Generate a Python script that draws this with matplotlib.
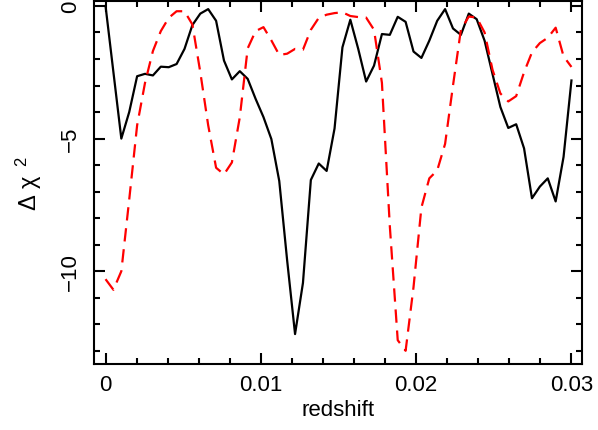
import matplotlib
matplotlib.use('Agg')
import matplotlib.pyplot as plt
from matplotlib.ticker import MultipleLocator

# redshift grid (60 samples from 0 to 0.03)
redshift = [0.000000, 0.000508, 0.001017, 0.001525, 0.002034, 0.002542, 0.003051, 0.003559,
            0.004068, 0.004576, 0.005085, 0.005593, 0.006102, 0.006610, 0.007119, 0.007627,
            0.008136, 0.008644, 0.009153, 0.009661, 0.010169, 0.010678, 0.011186, 0.011695,
            0.012203, 0.012712, 0.013220, 0.013729, 0.014237, 0.014746, 0.015254, 0.015763,
            0.016271, 0.016780, 0.017288, 0.017797, 0.018305, 0.018814, 0.019322, 0.019831,
            0.020339, 0.020847, 0.021356, 0.021864, 0.022373, 0.022881, 0.023390, 0.023898,
            0.024407, 0.024915, 0.025424, 0.025932, 0.026441, 0.026949, 0.027458, 0.027966,
            0.028475, 0.028983, 0.029492, 0.030000]

# black solid curve
dchi2_black = [0.0, -2.5, -5.0, -4.0, -2.65, -2.56, -2.62, -2.29, -2.31, -2.19,
               -1.62, -0.72, -0.29, -0.12, -0.56, -2.06, -2.77, -2.46, -2.75, -3.5,
               -4.19, -5.02, -6.6, -9.6, -12.37, -10.44, -6.56, -5.94, -6.22, -4.62,
               -1.56, -0.52, -1.62, -2.85, -2.25, -1.06, -1.09, -0.41, -0.6, -1.72,
               -1.96, -1.31, -0.56, -0.12, -0.85, -1.09, -0.29, -0.5, -1.31, -2.56,
               -3.81, -4.6, -4.46, -5.37, -7.25, -6.81, -6.5, -7.37, -5.69, -2.81]

# red dashed curve
dchi2_red = [-10.3, -10.7, -10.0, -7.3, -4.5, -2.9, -1.7, -0.95, -0.45, -0.2,
             -0.2, -0.7, -2.5, -4.5, -6.1, -6.35, -5.9, -4.2, -1.6, -0.95,
             -0.8, -1.3, -1.85, -1.8, -1.62, -1.65, -0.9, -0.45, -0.33, -0.27,
             -0.24, -0.38, -0.42, -0.44, -0.9, -2.9, -8.3, -12.6, -13.0, -10.6,
             -7.6, -6.5, -6.2, -5.2, -3.0, -0.9, -0.4, -0.44, -1.0, -2.4,
             -3.3, -3.6, -3.4, -2.5, -1.75, -1.4, -1.2, -0.82, -1.9, -2.3]

plt.rcParams['font.family'] = ['Liberation Sans', 'DejaVu Sans']
plt.rcParams['mathtext.fontset'] = 'custom'
plt.rcParams['mathtext.rm'] = 'Liberation Sans'
plt.rcParams['mathtext.it'] = 'Liberation Sans'

fig = plt.figure(figsize=(5.98, 4.31), dpi=100)
ax = fig.add_axes([0.157, 0.153, 0.816, 0.842])

ax.plot(redshift, dchi2_black, color='black', lw=1.6)
ax.plot(redshift, dchi2_red, color='red', lw=1.6, ls=(0, (6, 3.5)))

ax.set_xlim(-0.00075, 0.03067)
ax.set_ylim(-13.5, 0.18)

ax.xaxis.set_major_locator(MultipleLocator(0.01))
ax.xaxis.set_minor_locator(MultipleLocator(0.002))
ax.yaxis.set_major_locator(MultipleLocator(5))
ax.yaxis.set_minor_locator(MultipleLocator(1))
ax.set_xticks([0, 0.01, 0.02, 0.03])
ax.set_xticklabels(['0', '0.01', '0.02', '0.03'])

ax.tick_params(which='both', direction='in', top=True, right=True, width=1.5)
ax.tick_params(which='major', length=8, labelsize=16)
ax.tick_params(which='minor', length=4)
ax.tick_params(axis='x', pad=7)
ax.tick_params(axis='y', pad=9)
for lab in ax.get_yticklabels():
    lab.set_rotation(90)
    lab.set_va('center')
for sp in ax.spines.values():
    sp.set_linewidth(1.5)

ax.set_xlabel('redshift', fontsize=16, labelpad=3)
ax.set_ylabel(r'$\Delta\ \chi^{\ \ 2}$', fontsize=17, labelpad=12)

fig.savefig('out.png', dpi=100)
